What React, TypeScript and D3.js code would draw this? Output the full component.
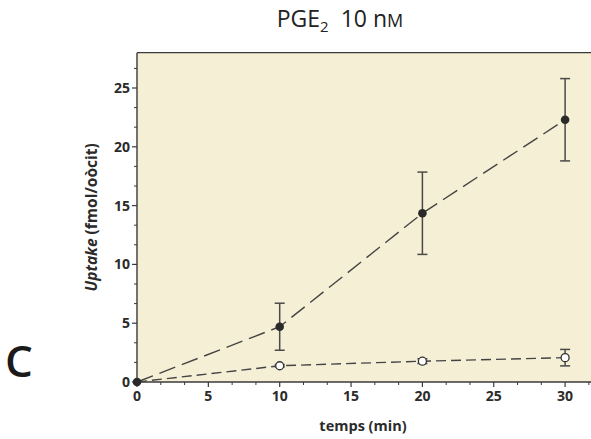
import React from "react";
import * as d3 from "d3";

const times = [0, 10, 20, 30];
const filledValues = [0, 4.7, 14.35, 22.3];
const filledErrors = [0, 2.0, 3.5, 3.5];
const openValues = [0, 1.38, 1.77, 2.07];
const openErrors = [0, 0.1, 0.2, 0.7];
const xTickLabels = [0, 5, 10, 15, 20, 25, 30];
const yTickLabels = [0, 5, 10, 15, 20, 25];

const W = 591;
const H = 439;
const FONT = "'Open Sans', 'Noto Sans', sans-serif";

export default function App() {
  const x = d3.scaleLinear().domain([0, 33]).range([137, 137 + 33 * 14.27]);
  const y = d3.scaleLinear().domain([0, 28]).range([382, 382 - 28 * 11.76]);
  const x0 = x(0);
  const x1 = x(33);
  const y0 = y(0);
  const y1 = y(28);

  const minorX = d3.range(0, 33, 5 / 3).filter((v) => Math.abs(v / 5 - Math.round(v / 5)) > 1e-6);
  const minorY = d3.range(0, 28, 5 / 3).filter((v) => Math.abs(v / 5 - Math.round(v / 5)) > 1e-6);

  const line = d3
    .line<number>()
    .x((_, i) => x(times[i]))
    .y((d) => y(d));

  const axisColor = "#3a3a3a";
  const textColor = "#2b2b2b";

  return (
    <svg
      width={W}
      height={H}
      style={{ position: "absolute", left: 0, top: 0, background: "#fff" }}
    >
      <rect x={x0} y={y1} width={x1 - x0} height={y0 - y1} fill="#f5efd5" />
      {/* border */}
      <line x1={x0} x2={x1} y1={y1} y2={y1} stroke={axisColor} strokeWidth={1.2} />
      <line x1={x0} x2={x0} y1={y1} y2={y0} stroke={axisColor} strokeWidth={1.4} />
      <line x1={x0} x2={x1} y1={y0} y2={y0} stroke={axisColor} strokeWidth={1.4} />

      {/* y ticks */}
      {yTickLabels.map((v) => (
        <g key={"yt" + v}>
          <line x1={x0 - 5} x2={x0} y1={y(v)} y2={y(v)} stroke={axisColor} strokeWidth={1.2} />
          <text
            x={x0 - 7}
            y={y(v)}
            dy="0.35em"
            textAnchor="end"
            fontFamily={FONT}
            fontWeight={700}
            fontSize={14}
            fill={textColor}
          >
            {v}
          </text>
        </g>
      ))}
      {minorY.map((v) => (
        <line key={"ym" + v} x1={x0 - 3} x2={x0} y1={y(v)} y2={y(v)} stroke={axisColor} strokeWidth={1} />
      ))}

      {/* x ticks */}
      {xTickLabels.map((v) => (
        <g key={"xt" + v}>
          <line x1={x(v)} x2={x(v)} y1={y0} y2={y0 + 5} stroke={axisColor} strokeWidth={1.2} />
          <text
            x={x(v)}
            y={y0 + 19}
            textAnchor="middle"
            fontFamily={FONT}
            fontWeight={700}
            fontSize={14}
            fill={textColor}
          >
            {v}
          </text>
        </g>
      ))}
      {minorX.map((v) => (
        <line key={"xm" + v} x1={x(v)} x2={x(v)} y1={y0} y2={y0 + 3} stroke={axisColor} strokeWidth={1} />
      ))}

      {/* lines */}
      <path
        d={line(openValues) || ""}
        fill="none"
        stroke="#444"
        strokeWidth={1.4}
        strokeDasharray="10 5"
      />
      <path
        d={line(filledValues) || ""}
        fill="none"
        stroke="#444"
        strokeWidth={1.4}
        strokeDasharray="17 7"
      />

      {/* error bars */}
      {times.map((t, i) =>
        filledErrors[i] > 0 ? (
          <g key={"fe" + i} stroke="#4a4a4a" strokeWidth={1.5}>
            <line x1={x(t)} x2={x(t)} y1={y(filledValues[i] + filledErrors[i])} y2={y(filledValues[i] - filledErrors[i])} />
            <line x1={x(t) - 5} x2={x(t) + 5} y1={y(filledValues[i] + filledErrors[i])} y2={y(filledValues[i] + filledErrors[i])} />
            <line x1={x(t) - 5} x2={x(t) + 5} y1={y(filledValues[i] - filledErrors[i])} y2={y(filledValues[i] - filledErrors[i])} />
          </g>
        ) : null
      )}
      {times.map((t, i) =>
        openErrors[i] > 0 ? (
          <g key={"oe" + i} stroke="#4a4a4a" strokeWidth={1.5}>
            <line x1={x(t)} x2={x(t)} y1={y(openValues[i] + openErrors[i])} y2={y(openValues[i] - openErrors[i])} />
            <line x1={x(t) - 5} x2={x(t) + 5} y1={y(openValues[i] + openErrors[i])} y2={y(openValues[i] + openErrors[i])} />
            <line x1={x(t) - 5} x2={x(t) + 5} y1={y(openValues[i] - openErrors[i])} y2={y(openValues[i] - openErrors[i])} />
          </g>
        ) : null
      )}

      {/* markers */}
      {times.map((t, i) =>
        i === 0 ? null : (
          <circle key={"om" + i} cx={x(t)} cy={y(openValues[i])} r={4} fill="#fff" stroke="#333" strokeWidth={1.3} />
        )
      )}
      {times.map((t, i) => (
        <circle key={"fm" + i} cx={x(t)} cy={y(filledValues[i])} r={4.3} fill="#2a2a2a" />
      ))}

      {/* title */}
      <text x={340} y={27} textAnchor="middle" fontFamily={FONT} fontSize={23} fill="#222">
        PGE
        <tspan fontSize={15} dy={5}>2</tspan>
        <tspan dy={-5}>{"\u00a0\u00a010 n"}</tspan>
        <tspan fontSize={18}>M</tspan>
      </text>

      {/* y label */}
      <text
        transform={`translate(97, ${(y0 + y1) / 2}) rotate(-90)`}
        textAnchor="middle"
        fontFamily={FONT}
        fontWeight={700}
        fontSize={15.5}
        fill={textColor}
      >
        <tspan fontStyle="italic">Uptake</tspan> (fmol/oòcit)
      </text>

      {/* x label */}
      <text x={363} y={431} textAnchor="middle" fontFamily={FONT} fontWeight={700} fontSize={14.5} fill={textColor}>
        temps (min)
      </text>

      {/* panel letter */}
      <text x={5} y={377} fontFamily={FONT} fontWeight={600} fontSize={44} fill="#1a1a1a">
        C
      </text>
    </svg>
  );
}
